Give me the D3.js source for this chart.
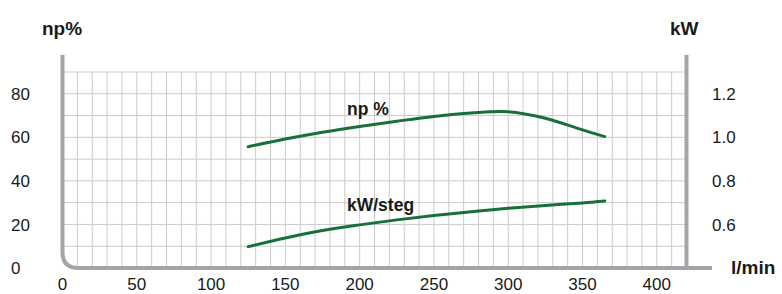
<!DOCTYPE html>
<html>
<head>
<meta charset="utf-8">
<script src="https://cdn.jsdelivr.net/npm/d3@7"></script>
<style>
  body { margin: 0; background: #fff; }
  text { font-family: "Liberation Sans", Arial, sans-serif; fill: #1a1a1a; }
</style>
</head>
<body>
<script>
// flow values (l/min) where the curves were read
const flow = [125, 150, 175, 200, 225, 250, 275, 300, 325, 350, 365]
// efficiency np %
const npValues = [55.7, 59.2, 62.3, 65.0, 67.4, 69.6, 71.2, 71.8, 68.8, 63.4, 60.3]
// power kW/steg
const kwValues = [0.498, 0.538, 0.572, 0.598, 0.621, 0.641, 0.658, 0.674, 0.687, 0.699, 0.708]

const xTicks = [0, 50, 100, 150, 200, 250, 300, 350, 400]
const leftTicks = [0, 20, 40, 60, 80]
const rightTicks = [0.6, 0.8, 1.0, 1.2]

var w = 782
var h = 294

var svg = d3.select("body")
            .append("svg")
            .attr("width", w)
            .attr("height", h)

const xScale = d3.scaleLinear()
  .domain([0, 420])
  .range([62.5, 686.5])

const yScale = d3.scaleLinear()
  .domain([0, 90])
  .range([268, 72])

const kwScale = d3.scaleLinear()
  .domain([0.4, 1.3])
  .range([268, 72])

// grid
svg.append("g")
  .selectAll("line")
  .data(d3.range(10, 420, 10))
  .enter()
  .append("line")
  .attr("x1", d => xScale(d))
  .attr("x2", d => xScale(d))
  .attr("y1", yScale(90))
  .attr("y2", yScale(0))
  .attr("stroke", "#cbcbcb")
  .attr("stroke-width", 1)

svg.append("g")
  .selectAll("line")
  .data(d3.range(10, 100, 10))
  .enter()
  .append("line")
  .attr("x1", xScale(0))
  .attr("x2", xScale(420))
  .attr("y1", d => yScale(d))
  .attr("y2", d => yScale(d))
  .attr("stroke", "#cbcbcb")
  .attr("stroke-width", 1)

// axes frame: left + bottom with rounded corner, right line
const r = 16
const x0 = xScale(0), y0 = yScale(0)
svg.append("path")
  .attr("d", `M${x0},55 L${x0},${y0 - r} Q${x0},${y0} ${x0 + r},${y0} L712,${y0}`)
  .attr("fill", "none")
  .attr("stroke", "#a2a5a9")
  .attr("stroke-width", 4)

svg.append("line")
  .attr("x1", xScale(420))
  .attr("x2", xScale(420))
  .attr("y1", 55)
  .attr("y2", y0)
  .attr("stroke", "#a2a5a9")
  .attr("stroke-width", 4)

// tick labels
svg.append("g")
  .selectAll("text")
  .data(xTicks)
  .enter()
  .append("text")
  .attr("x", d => xScale(d))
  .attr("y", 290)
  .attr("text-anchor", "middle")
  .attr("font-size", 17)
  .text(d => d)

svg.append("g")
  .selectAll("text")
  .data(leftTicks)
  .enter()
  .append("text")
  .attr("x", 11)
  .attr("y", d => yScale(d))
  .attr("dy", "0.36em")
  .attr("font-size", 17)
  .text(d => d)

svg.append("g")
  .selectAll("text")
  .data(rightTicks)
  .enter()
  .append("text")
  .attr("x", 712)
  .attr("y", d => kwScale(d))
  .attr("dy", "0.36em")
  .attr("font-size", 17)
  .text(d => d.toFixed(1))

// axis titles
svg.append("text").attr("x", 42).attr("y", 35)
  .attr("font-size", 19).attr("font-weight", "bold").text("np%")
svg.append("text").attr("x", 670).attr("y", 35)
  .attr("font-size", 19).attr("font-weight", "bold").text("kW")
svg.append("text").attr("x", 731).attr("y", 274)
  .attr("font-size", 19).attr("font-weight", "bold").text("l/min")

// curves
const npLine = d3.line()
  .x((d, i) => xScale(flow[i]))
  .y(d => yScale(d))
  .curve(d3.curveCatmullRom.alpha(0.5))

const kwLine = d3.line()
  .x((d, i) => xScale(flow[i]))
  .y(d => kwScale(d))
  .curve(d3.curveCatmullRom.alpha(0.5))

svg.append("path")
  .attr("d", npLine(npValues))
  .attr("fill", "none")
  .attr("stroke", "#17703a")
  .attr("stroke-width", 3)
  .attr("stroke-linecap", "round")

svg.append("path")
  .attr("d", kwLine(kwValues))
  .attr("fill", "none")
  .attr("stroke", "#17703a")
  .attr("stroke-width", 3)
  .attr("stroke-linecap", "round")

// curve labels
svg.append("text").attr("x", 347).attr("y", 115)
  .attr("font-size", 17.5).attr("font-weight", "bold").text("np %")
svg.append("text").attr("x", 347).attr("y", 211)
  .attr("font-size", 17.5).attr("font-weight", "bold").text("kW/steg")
</script>
</body>
</html>
